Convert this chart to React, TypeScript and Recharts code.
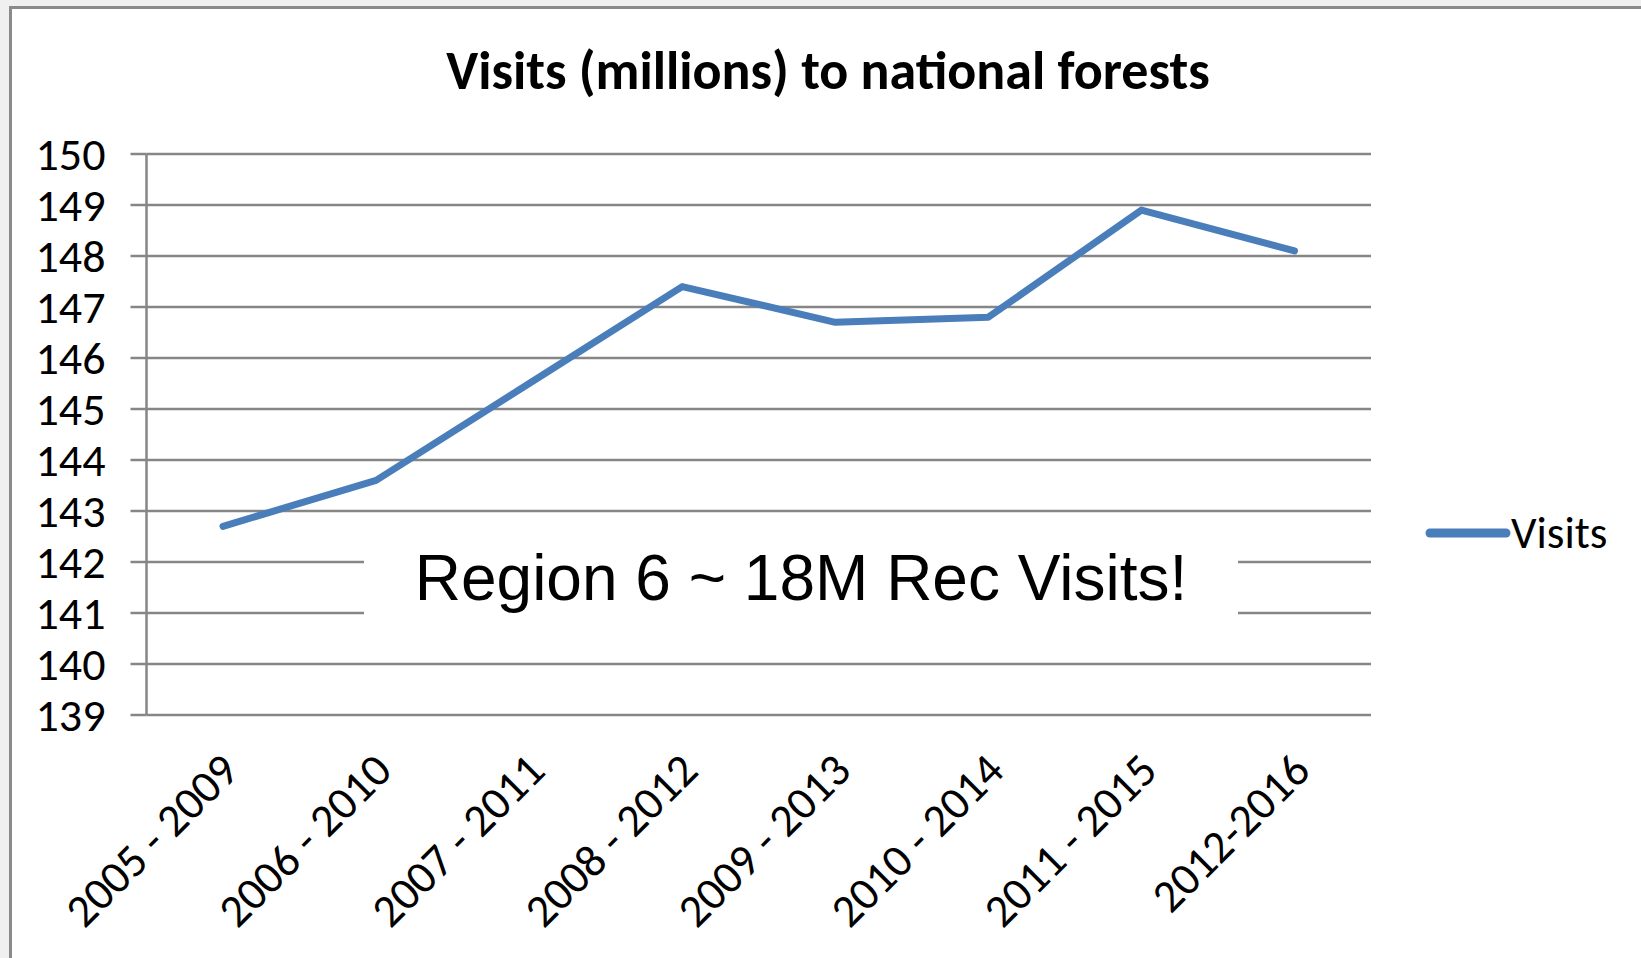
import { LineChart, Line, XAxis, YAxis, CartesianGrid, Legend } from "recharts";

const periods = [
  "2005 - 2009",
  "2006 - 2010",
  "2007 - 2011",
  "2008 - 2012",
  "2009 - 2013",
  "2010 - 2014",
  "2011 - 2015",
  "2012-2016",
];
const visits = [142.7, 143.6, 145.5, 147.4, 146.7, 146.8, 148.9, 148.1];
const yTicks = [139, 140, 141, 142, 143, 144, 145, 146, 147, 148, 149, 150];
const edgeTicks = [0, 1, 2, 3, 4, 5, 6, 7, 8];

const data = periods.map((period, i) => ({ period, visits: visits[i], pos: i + 0.5 }));

const FONT = "Carlito, Lato, sans-serif";
const GRID = "#868686";
const BLUE = "#4a7ebb";

function PeriodTick(props: any) {
  const { x, payload } = props;
  const ax = x + 18;
  const ay = 773;
  return (
    <text
      x={ax}
      y={ay}
      transform={`rotate(-45 ${ax} ${ay})`}
      textAnchor="end"
      fontFamily={FONT}
      fontSize={46}
      fill="#000"
    >
      {payload.value}
    </text>
  );
}

function LegendBox() {
  return (
    <div style={{ display: "flex", alignItems: "center", fontFamily: FONT, fontSize: 45 }}>
      <svg width={86} height={14}>
        <line x1={5} y1={7} x2={81} y2={7} stroke={BLUE} strokeWidth={9} strokeLinecap="round" />
      </svg>
      <span>Visits</span>
    </div>
  );
}

export default function App() {
  return (
    <div style={{ position: "relative", width: 1641, height: 958, background: "#f0f0f0", overflow: "hidden" }}>
      <style>{"body{margin:0}"}</style>
      <div
        style={{
          position: "absolute",
          left: 9,
          top: 6,
          width: 1660,
          height: 980,
          background: "#fff",
          border: "3px solid #8a8a8a",
        }}
      />
      <div style={{ position: "absolute", left: 0, top: 0 }}>
        <LineChart width={1641} height={958} data={data} margin={{ top: 154, right: 270, bottom: 0, left: 0 }}>
          <CartesianGrid vertical={false} stroke={GRID} strokeWidth={2.5} />
          <XAxis
            xAxisId="edges"
            dataKey="pos"
            type="number"
            domain={[0, 8]}
            ticks={edgeTicks}
            tick={false}
            tickSize={16}
            height={0}
            axisLine={{ stroke: GRID, strokeWidth: 2.5 }}
            tickLine={{ stroke: GRID, strokeWidth: 2.5 }}
          />
          <XAxis
            xAxisId="cat"
            dataKey="period"
            interval={0}
            height={243}
            axisLine={false}
            tickLine={false}
            padding={{ left: 76.5, right: 76.5 }}
            tick={<PeriodTick />}
          />
          <YAxis
            domain={[139, 150]}
            ticks={yTicks}
            interval={0}
            width={146.5}
            tickSize={16}
            tickMargin={25}
            axisLine={{ stroke: GRID, strokeWidth: 2.5 }}
            tickLine={{ stroke: GRID, strokeWidth: 2.5 }}
            tick={{ fontFamily: FONT, fontSize: 46, fill: "#000" }}
          />
          <Legend
            layout="horizontal"
            verticalAlign="middle"
            align="center"
            wrapperStyle={{ left: 1425, top: 505, width: 215 }}
            content={() => <LegendBox />}
          />
          <Line
            xAxisId="cat"
            type="linear"
            dataKey="visits"
            name="Visits"
            stroke={BLUE}
            strokeWidth={7}
            strokeLinecap="round"
            strokeLinejoin="round"
            dot={false}
            isAnimationActive={false}
          />
        </LineChart>
      </div>
      <div
        style={{
          position: "absolute",
          left: 0,
          width: 1656,
          top: 40,
          textAlign: "center",
          fontFamily: FONT,
          fontWeight: 700,
          fontSize: 54,
          lineHeight: "62px",
        }}
      >
        Visits (millions) to national forests
      </div>
      <div
        style={{
          position: "absolute",
          left: 364,
          top: 540,
          width: 874,
          height: 96,
          background: "#fff",
          textAlign: "center",
          fontFamily: "'Liberation Sans', Arial, sans-serif",
          fontSize: 64,
          lineHeight: "76px",
        }}
      >
        Region 6 ~ 18M Rec Visits!
      </div>
    </div>
  );
}
